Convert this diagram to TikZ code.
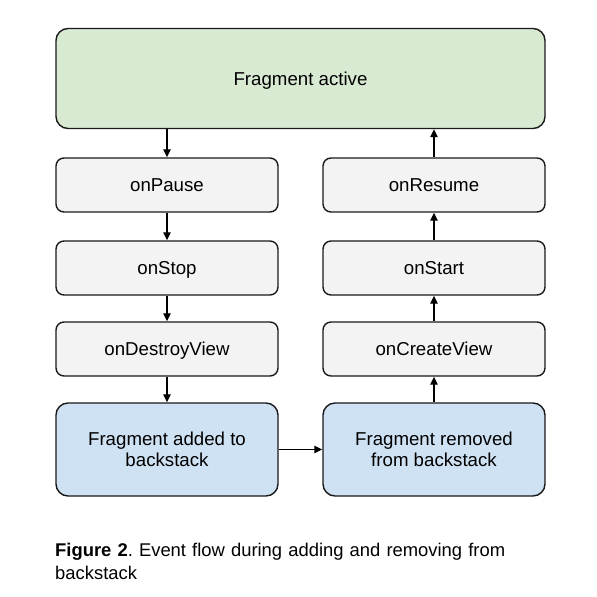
\documentclass[tikz,border=0pt]{standalone}
\usepackage{fontspec}
\setmainfont{Liberation Sans}
\usetikzlibrary{arrows.meta}
\definecolor{actgreen}{HTML}{D9EAD3}
\definecolor{stepgrey}{HTML}{F3F3F3}
\definecolor{stackblue}{HTML}{CFE2F3}
\definecolor{edgeline}{HTML}{1A1A1A}
\begin{document}
\frenchspacing
\begin{tikzpicture}[x=1pt,y=-1pt,
  every node/.style={font=\fontsize{18.67}{21}\selectfont, inner sep=0pt},
  boxbase/.style={draw=edgeline, line width=1.4pt, align=center},
  greenbox/.style={boxbase, fill=actgreen, rounded corners=12pt, minimum width=489pt, minimum height=100pt, text depth=0pt},
  greybox/.style={boxbase, fill=stepgrey, rounded corners=8pt, minimum width=222pt, minimum height=54pt, text depth=0pt},
  bluebox/.style={boxbase, fill=stackblue, rounded corners=12pt, minimum width=222pt, minimum height=93pt},
  flow/.style={draw=black, line width=1.3pt, -{Triangle[length=8pt,width=7.5pt]}}
]
\useasboundingbox (0,0) rectangle (597,597);
\fill[white] (0,0) rectangle (597,597);
\node[greenbox] (active) at (300.5,78.5) {Fragment active};
\node[greybox] (pause) at (167,185) {onPause};
\node[greybox] (stop) at (167,268) {onStop};
\node[greybox] (destroy) at (167,349) {onDestroyView};
\node[bluebox] (added) at (167,449.5) {Fragment added to\\backstack};
\node[greybox] (resume) at (434,185) {onResume};
\node[greybox] (start) at (434,268) {onStart};
\node[greybox] (create) at (434,349) {onCreateView};
\node[bluebox] (removed) at (434,449.5) {Fragment removed\\from backstack};
\draw[flow] (active.south -| pause) -- (pause.north);
\draw[flow] (pause) -- (stop);
\draw[flow] (stop) -- (destroy);
\draw[flow] (destroy) -- (added);
\draw[flow] (added) -- (removed);
\draw[flow] (removed) -- (create);
\draw[flow] (create) -- (start);
\draw[flow] (start) -- (resume);
\draw[flow] (resume.north) -- (resume.north |- active.south);
\node[anchor=base west, text width=470pt, align=left, font=\fontsize{18.4}{22.6}\selectfont] (caption) at (55,556.7) {\textbf{Figure 2}. Event flow during adding and removing from backstack};
\end{tikzpicture}
\end{document}
